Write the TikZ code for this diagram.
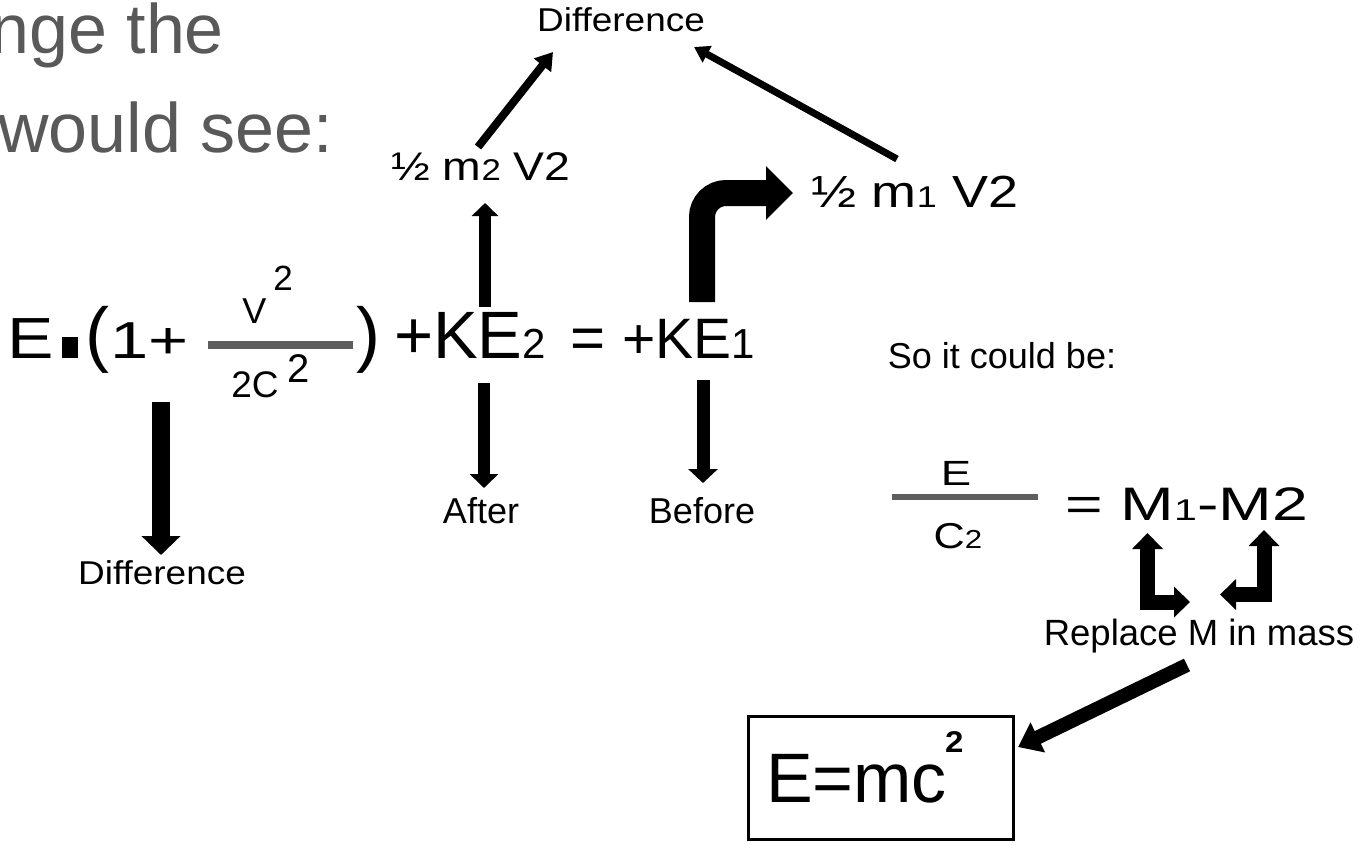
\documentclass[tikz,border=0pt]{standalone}
\usepackage{fontspec}
\setmainfont{Liberation Sans}
\usetikzlibrary{arrows.meta}
\definecolor{txtgray}{HTML}{595959}
\definecolor{lngray}{HTML}{5E5E5E}
\newcommand{\fs}[1]{\fontsize{#1}{#1}\selectfont}
\newcommand{\hsc}[2]{\scalebox{#1}[1]{#2}}
\tikzset{
  txt/.style={inner sep=0pt, outer sep=0pt},
  barrow/.style n args={3}{draw=black, line width=#1, -{Triangle[width=#2,length=#3]}},
  dbarrow/.style n args={3}{draw=black, line width=#1, {Triangle[width=#2,length=#3]}-{Triangle[width=#2,length=#3]}},
  fracline/.style={draw=lngray, line width=#1},
}
\begin{document}
\begin{tikzpicture}[x=1pt,y=-1pt]
\useasboundingbox (0,0) rectangle (1365,844);
% heading fragments
\node[txt, anchor=base east, text=txtgray] (h1) at (224,53) {\fs{70}nge the};
\node[txt, anchor=base east, text=txtgray] (h2) at (333,152) {\fs{70}would see:};
% top labels
\node[txt, anchor=base] (dtop) at (621,31) {\hsc{1.12}{\fs{33}Difference}};
\node[txt, anchor=base] (half2) at (481,180) {\hsc{1.16}{\fs{40}½ m{\fs{30}2} V2}};
\node[txt, anchor=base] (half1) at (915,207) {\hsc{1.2}{\fs{45}½ m{\fs{30}1} V2}};
% main equation
\node[txt, anchor=base west] (eE) at (7.5,358) {\hsc{1.2}{\fs{58}E}};
\node[fill=black, inner sep=0pt, minimum width=16pt, minimum height=21pt] (dot) at (70,347.5) {};
\node[txt, anchor=base west] (lpar) at (85.5,358) {\fs{72}(};
\node[txt, anchor=base west] (onep) at (110.5,358) {\hsc{1.32}{\fs{52}1+}};
\coordinate (fl1) at (208,345);
\coordinate (fl2) at (353,345);
\draw[fracline=8] (fl1) -- (fl2);
\node[txt, anchor=base] (vv) at (254.5,323) {\fs{36}V};
\node[txt, anchor=base] (vsq) at (283,290) {\fs{35}2};
\node[txt, anchor=base] (twoc) at (255,397) {\fs{37}2C};
\node[txt, anchor=base] (csq) at (299,382) {\fs{40}2};
\node[txt, anchor=base west] (rpar) at (356,358) {\fs{72})};
\node[txt, anchor=base west] (ke2) at (394,358) {\fs{67}+KE{\fs{42}2}};
\node[txt, anchor=base] (eq) at (588,358) {\fs{60}=};
\node[txt, anchor=base west] (ke1) at (622,358) {\fs{57}+KE{\fs{42}1}};
% lower labels
\node[txt, anchor=base] (dbot) at (162,584) {\hsc{1.12}{\fs{33}Difference}};
\node[txt, anchor=base] (after) at (481,523) {\fs{36}After};
\node[txt, anchor=base] (before) at (702,523) {\fs{36}Before};
% right side
\node[txt, anchor=base] (so) at (1002,368) {\fs{36}So it could be:};
\coordinate (gl1) at (892,497);
\coordinate (gl2) at (1038,497);
\draw[fracline=6] (gl1) -- (gl2);
\node[txt, anchor=base] (eR) at (956,485) {\hsc{1.3}{\fs{35}E}};
\node[txt, anchor=base] (cR) at (958,548) {\hsc{1.2}{\fs{36}C{\fs{26}2}}};
\node[txt, anchor=base west] (mm) at (1065,520) {\hsc{1.37}{\fs{47}= M{\fs{30}1}-M2}};
\node[txt, anchor=base] (repl) at (1199,645) {\fs{36.5}Replace M in mass};
% result box
\node[draw=black, line width=3pt, minimum width=265pt, minimum height=123pt, inner sep=0pt] (box) at (880.5,777.5) {};
\node[txt, anchor=base west] (emc) at (766,802) {\fs{70}E=mc};
\node[txt, anchor=base west] (emc2) at (945,752) {\hsc{1.1}{\fs{30}\bfseries 2}};
% arrow end points
\coordinate (a1s) at (478,147); \coordinate (a1e) at (553,52);
\coordinate (a2s) at (897,159); \coordinate (a2e) at (694,47);
\coordinate (a3s) at (485,307); \coordinate (a3e) at (485,203);
\coordinate (a4s) at (484,383); \coordinate (a4e) at (484,488);
\coordinate (a5s) at (703,380); \coordinate (a5e) at (703,483);
\coordinate (a6s) at (161,402); \coordinate (a6e) at (161,555);
\coordinate (a7s) at (702,302); \coordinate (a7m) at (702,193); \coordinate (a7e) at (793,193);
\coordinate (a8u) at (1147.5,533); \coordinate (a8r) at (1190,602);
\coordinate (a9u) at (1264,530); \coordinate (a9l) at (1220,594.5);
\coordinate (a10s) at (1187,665); \coordinate (a10e) at (1018,747);
% arrows
\draw[barrow={8pt}{21pt}{17pt}] (a1s) -- (a1e);
\draw[barrow={7pt}{18pt}{15pt}] (a2s) -- (a2e);
\draw[barrow={12pt}{26pt}{13pt}] (a3s) -- (a3e);
\draw[barrow={12pt}{28pt}{14pt}] (a4s) -- (a4e);
\draw[barrow={13pt}{29pt}{14pt}] (a5s) -- (a5e);
\draw[barrow={18pt}{38pt}{19pt}] (a6s) -- (a6e);
\draw[barrow={26pt}{52pt}{27pt}, rounded corners=24pt] (a7s) -- (a7m) -- (a7e);
\draw[dbarrow={15pt}{30pt}{16pt}] (a8u) |- (a8r);
\draw[dbarrow={15pt}{30pt}{16pt}] (a9u) |- (a9l);
\draw[barrow={14pt}{32pt}{22pt}] (a10s) -- (a10e);
\end{tikzpicture}
\end{document}
